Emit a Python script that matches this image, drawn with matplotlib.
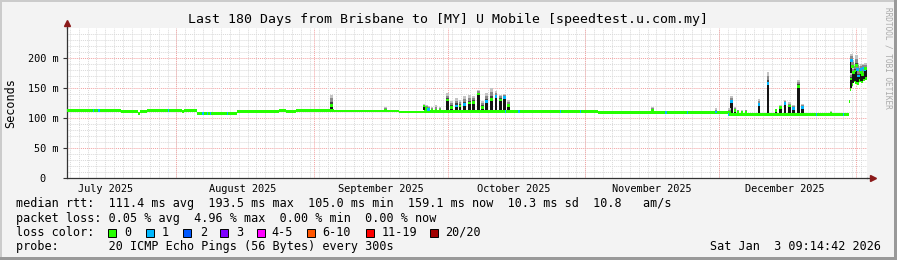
import numpy as np
import pandas as pd
import matplotlib
matplotlib.use("Agg")
import matplotlib.pyplot as plt
import matplotlib.dates as mdates
from matplotlib.patches import Rectangle

plt.rcParams['font.family'] = ['DejaVu Sans Mono']

W, H = 897, 260

# time window shown by the graph
t_end = pd.Timestamp("2026-01-03 09:14:42")
t_start = t_end - pd.Timedelta(days=180)

# median rtt baseline (ms), each value holds until the next time
base_times = pd.to_datetime([
    "2025-07-07 09:14", "2025-07-19 14:00", "2025-07-23 07:00", "2025-07-23 18:00",
    "2025-07-25 08:00", "2025-08-02 08:00", "2025-08-02 18:00", "2025-08-05 17:00",
    "2025-08-14 16:00", "2025-08-24 02:00", "2025-08-25 18:00", "2025-08-27 20:00",
    "2025-09-05 10:00", "2025-09-20 00:00", "2025-09-25 15:00", "2025-10-15 05:00",
    "2025-11-03 19:00", "2025-12-03 02:00", "2025-12-30 07:00", "2025-12-30 14:00",
    "2025-12-30 20:00", "2025-12-31 05:00", "2025-12-31 15:00", "2026-01-01 02:00",
    "2026-01-01 13:00", "2026-01-02 00:00", "2026-01-02 10:00", "2026-01-02 21:00",
])
base_ms = [112.3, 110.5, 107.5, 110.5, 112.3, 110.6, 112.3, 107.5,
           110.6, 112.3, 110.6, 113.0, 111.8, 110.2, 110.8, 110.3,
           109.0, 105.7, 128.0, 148.0, 156.0, 162.0, 159.0, 157.0,
           162.0, 160.0, 163.0, 166.0]

# spikes: time, median (ms), top of smoke (ms), loss bucket
spike_times = pd.to_datetime([
    "2025-09-04 20:00", "2025-09-17 02:00", "2025-09-25 17:00", "2025-09-26 05:00",
    "2025-09-26 17:00", "2025-09-27 12:00", "2025-09-28 09:00", "2025-09-29 07:00",
    "2025-10-01 00:00", "2025-10-01 23:00", "2025-10-02 23:00", "2025-10-03 20:00",
    "2025-10-04 21:00", "2025-10-05 21:00", "2025-10-06 22:00", "2025-10-07 22:00",
    "2025-10-08 22:00", "2025-10-09 20:00", "2025-10-10 21:00", "2025-10-11 21:00",
    "2025-10-12 21:00", "2025-10-13 21:00", "2025-10-14 19:00", "2025-11-16 02:00",
    "2025-11-30 09:00", "2025-12-03 12:00", "2025-12-03 22:00", "2025-12-04 16:00",
    "2025-12-05 09:00", "2025-12-06 07:00", "2025-12-07 04:00", "2025-12-10 02:00",
    "2025-12-12 03:00", "2025-12-13 22:00", "2025-12-14 22:00", "2025-12-15 22:00",
    "2025-12-16 22:00", "2025-12-17 21:00", "2025-12-18 22:00", "2025-12-19 22:00",
    "2025-12-26 06:00", "2025-12-30 18:00", "2025-12-30 23:00", "2025-12-31 04:00",
    "2025-12-31 10:00", "2025-12-31 16:00", "2026-01-01 00:00", "2026-01-01 07:00",
    "2026-01-01 13:00", "2026-01-01 19:00", "2026-01-02 00:00", "2026-01-02 05:00",
    "2026-01-02 10:00", "2026-01-02 15:00", "2026-01-02 21:00", "2026-01-03 02:00",
])
spike_med = [121, 113, 120, 116, 114, 112, 113, 112,
             130, 118, 120, 120, 122, 125, 126, 140,
             118, 128, 131, 136, 130, 134, 121, 113,
             110, 110, 127, 112, 110, 109, 110, 122,
             157, 113, 118, 124, 120, 116, 153, 118,
             108, 165, 195, 185, 175, 178, 187, 180,
             170, 178, 181, 175, 172, 183, 180, 182]
spike_top = [139, 119, 123, 121, 120, 118, 121, 118,
             141, 128, 134, 130, 136, 138, 137, 147,
             128, 141, 150, 145, 139, 140, 130, 119,
             116, 116, 137, 118, 114, 113, 114, 131,
             177, 115, 121, 130, 126, 121, 164, 124,
             112, 175, 207, 197, 185, 190, 204, 192,
             182, 186, 190, 185, 183, 190, 188, 192]
spike_loss = [0, 0, 0, 0, 1, 0, 0, 0,
              0, 0, 1, 0, 1, 0, 0, 0,
              0, 1, 0, 1, 0, 1, 0, 0,
              1, 0, 1, 0, 0, 0, 0, 1,
              1, 0, 0, 1, 0, 1, 0, 1,
              0, 0, 1, 0, 0, 0, 0, 1,
              1, 0, 1, 0, 0, 1, 1, 0]

# single-ping-loss marks on the baseline
loss1_times = pd.to_datetime([
    "2025-07-13 10:00", "2025-07-14 14:00", "2025-07-30 07:00", "2025-08-07 00:00",
    "2025-08-07 23:00", "2025-08-08 17:00", "2025-08-12 11:00", "2025-10-14 02:00",
    "2025-10-17 02:00", "2025-10-26 09:00", "2025-10-30 21:00", "2025-11-19 03:00",
    "2025-11-24 00:00", "2025-12-03 05:00", "2025-12-23 01:00", "2025-12-29 01:00",
])

loss_labels = ["0", "1", "2", "3", "4-5", "6-10", "11-19", "20/20"]
loss_colors = ["#26ff00", "#00b8ff", "#0059ff", "#7e00ff", "#ff00ff", "#ff5500", "#ff0000", "#a10000"]

fig = plt.figure(figsize=(W / 100, H / 100), dpi=100, facecolor='#f3f3f3')
ax = fig.add_axes([67 / W, (H - 178.3) / H, 800 / W, (178.3 - 28) / H], facecolor='white')
ax.set_xlim(t_start, t_end)
ax.set_ylim(0, 249.5)

# grid
for v in range(10, 250, 10):
    major = v % 50 == 0
    ax.axhline(v, color='#f2a0a0' if major else '#d9d9d9', lw=0.7,
               ls=(0, (1, 1)), zorder=0)
for d in pd.date_range("2025-07-08", t_end, freq="2D"):
    ax.axvline(d, color='#d9d9d9', lw=0.7, ls=(0, (1, 1)), zorder=0)
for d in pd.date_range("2025-08-01", t_end, freq="MS"):
    ax.axvline(d, color='#f2a0a0', lw=0.7, ls=(0, (1, 1)), zorder=0)

green = loss_colors[0]
half = 2.3
bt = list(base_times) + [t_end]
bv = np.array(base_ms + [base_ms[-1]])
ax.fill_between(bt, bv - half, bv + half, step='post', color=green, lw=0, zorder=3)

# baseline under each spike
bnum = mdates.date2num(base_times)
snum = mdates.date2num(spike_times)
sbase = np.array(base_ms)[np.searchsorted(bnum, snum, side='right') - 1]
smed = np.array(spike_med, dtype=float)
stop = np.array(spike_top, dtype=float)
wid = 0.6
bk = dict(width=wid, lw=0, antialiased=False, zorder=4)

ax.bar(spike_times, smed - sbase - half, bottom=sbase + half, color='#141414', **bk)
span = stop - smed
ax.bar(spike_times, span, bottom=smed, color='#c4c4c4', **bk)
ax.bar(spike_times, span * 0.65, bottom=smed, color='#8a8a8a', **bk)
ax.bar(spike_times, span * 0.3, bottom=smed, color='#444444', **bk)
ax.bar(spike_times, 2 * half, bottom=smed - half, width=wid, lw=0, antialiased=False,
       color=[loss_colors[k] for k in spike_loss], zorder=5)

lnum = mdates.date2num(loss1_times)
lbase = np.array(base_ms)[np.searchsorted(bnum, lnum, side='right') - 1]
ax.bar(loss1_times, 2 * half, bottom=lbase - half, width=0.3, antialiased=False,
       color=loss_colors[1], lw=0, zorder=5)

# axes
for s in ['top', 'right']:
    ax.spines[s].set_visible(False)
for s in ['left', 'bottom']:
    ax.spines[s].set_color('#333333')
    ax.spines[s].set_linewidth(0.9)
ax.plot([1, 1.007], [0, 0], transform=ax.transAxes, color='#333333', lw=0.9, clip_on=False)
ax.plot([0, 0], [1, 1.03], transform=ax.transAxes, color='#333333', lw=0.9, clip_on=False)
ax.plot([1.008], [0], marker='>', ms=4, color='#8b1a1a', transform=ax.transAxes, clip_on=False)
ax.plot([0], [1.035], marker='^', ms=4, color='#8b1a1a', transform=ax.transAxes, clip_on=False)

ax.set_yticks([0, 50, 100, 150, 200])
ax.set_yticklabels(["0  ", "50 m", "100 m", "150 m", "200 m"])
ax.tick_params(axis='y', length=3, width=0.8, color='#333333', pad=3, labelsize=7.4)

ax.xaxis.set_major_locator(mdates.MonthLocator(bymonthday=16))
ax.xaxis.set_major_formatter(mdates.DateFormatter('%B %Y'))
ax.tick_params(axis='x', length=0, pad=4, labelsize=7.4)

# texts
def ftext(x, y, s, **kw):
    fig.text(x / W, 1 - y / H, s, va='center', **kw)

ftext(447.5, 19, "Last 180 Days from Brisbane to [MY] U Mobile [speedtest.u.com.my]",
      ha='center', fontsize=9.5)
ftext(10.5, 103, "Seconds", ha='center', rotation=90, fontsize=8.5)
ftext(888, 58, "RRDTOOL / TOBI OETIKER", ha='center', rotation=270, fontsize=5.6, color='#aaaaaa')

lg = 8.5
ftext(16, 204, "median rtt:  111.4 ms avg  193.5 ms max  105.0 ms min  159.1 ms now  10.3 ms sd  10.8   am/s", fontsize=lg)
ftext(16, 218.3, "packet loss: 0.05 % avg  4.96 % max  0.00 % min  0.00 % now", fontsize=lg)
ftext(16, 232.3, "loss color:", fontsize=lg)
ftext(16, 246.7, "probe:       20 ICMP Echo Pings (56 Bytes) every 300s", fontsize=lg)
ftext(880.7, 246.7, "Sat Jan  3 09:14:42 2026", ha='right', fontsize=lg)

box_x = [108, 145.7, 183, 220, 257, 307, 366, 430]
lab_x = [124, 161.7, 200, 236, 271.7, 322, 381.7, 445]
for bx, lx, lab, c in zip(box_x, lab_x, loss_labels, loss_colors):
    fig.add_artist(Rectangle((bx / W, 1 - 236.5 / H), 8 / W, 8 / H, transform=fig.transFigure,
                             facecolor=c, edgecolor='black', lw=0.7))
    ftext(lx, 232.3, lab, fontsize=lg)

# frame shading
fig.add_artist(Rectangle((0, 1 - 2 / H), 1, 2 / H, transform=fig.transFigure, color='#cbcbcb', lw=0))
fig.add_artist(Rectangle((0, 0), 2 / W, 1, transform=fig.transFigure, color='#cbcbcb', lw=0))
fig.add_artist(Rectangle((0, 0), 1, 3 / H, transform=fig.transFigure, color='#999999', lw=0))
fig.add_artist(Rectangle((1 - 3 / W, 0), 3 / W, 1, transform=fig.transFigure, color='#999999', lw=0))

fig.savefig("out.png", dpi=100, facecolor=fig.get_facecolor())
